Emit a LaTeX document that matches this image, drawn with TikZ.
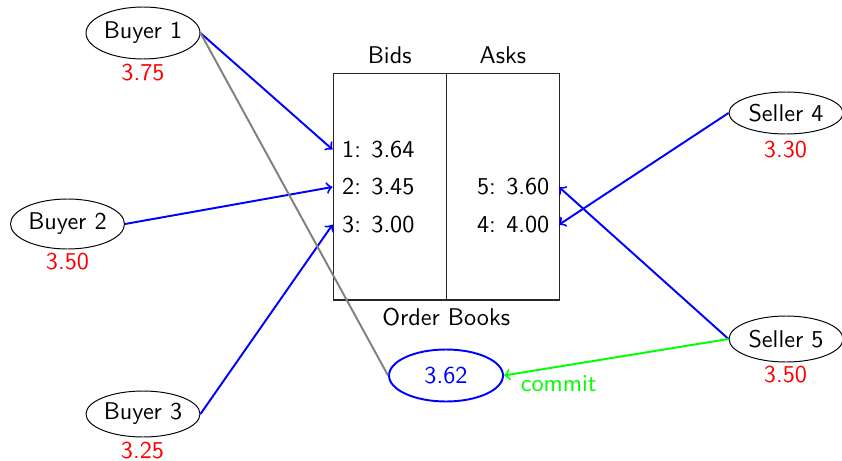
\documentclass[tikz,border=0pt]{standalone}
\usetikzlibrary{shapes.geometric}
\begin{document}
\begin{tikzpicture}[x=0.4132pt,y=-0.4132pt,font=\sffamily,
  trader/.style={ellipse,draw,thin,inner sep=0pt,minimum width=114*0.4132pt,minimum height=#1*0.4132pt},
  trader/.default=48,
  price/.style={text=red,inner sep=0pt},
  entry/.style={inner xsep=3.8pt,inner ysep=0pt},
  order/.style={->,blue,thick},
  column/.style={draw=black!85,line width=0.6pt,inner sep=0pt,anchor=north west,
    minimum height=226.6*0.4132pt},
  heading/.style={anchor=base,inner sep=0pt}]
\useasboundingbox (0,0) rectangle (842,460);

% traders and their limit prices
\node[trader=52] (b1) at (143,33) {Buyer 1};
\node[price] (p1) at (143,73) {3.75};
\node[trader=50] (b2) at (67.5,224) {Buyer 2};
\node[price] (p2) at (67.5,262) {3.50};
\node[trader=46] (b3) at (143,414) {Buyer 3};
\node[price] (p3) at (142.5,451) {3.25};
\node[trader=42] (s4) at (786,113) {Seller 4};
\node[price] (p4) at (785.5,149.5) {3.30};
\node[trader=46] (s5) at (786,339) {Seller 5};
\node[price] (p5) at (785.5,375) {3.50};

% order books
\node[column,minimum width=113.5*0.4132pt] (bidcol) at (332.5,72.7) {};
\node[column,minimum width=113*0.4132pt] (askcol) at (446,72.7) {};
\node[heading] (bidhead) at (389.7,63.3) {Bids};
\node[heading] (askhead) at (503,63.3) {Asks};
\node[heading] (bookname) at (446.2,325) {Order Books};

\node[entry,anchor=west] (bid1) at (332.5,149.5) {1:\hspace{4.3pt}3.64};
\node[entry,anchor=west] (bid2) at (332.5,187) {2:\hspace{4.3pt}3.45};
\node[entry,anchor=west] (bid3) at (332.5,224.7) {3:\hspace{4.3pt}3.00};
\node[entry,anchor=east] (ask5) at (559,187) {5:\hspace{4.3pt}3.60};
\node[entry,anchor=east] (ask4) at (559,224.7) {4:\hspace{4.3pt}4.00};

% clearing price
\node[ellipse,draw=blue,thick,text=blue,inner sep=0pt,
  minimum width=114*0.4132pt,minimum height=52*0.4132pt] (clear) at (446,375.5) {3.62};

% orders
\draw[order] (b1.east) -- (bid1.west);
\draw[order] (b2.east) -- (bid2.west);
\draw[order] (b3.east) -- (bid3.west);
\draw[order] (s4.west) -- (ask4.east);
\draw[order] (s5.west) -- (ask5.east);
\draw[gray,thick] (b1.east) -- (clear.west);
\draw[->,green,thick] (s5.west) -- (clear.east);
\node[anchor=base,inner sep=0pt,text=green] (commitlbl) at (558.7,391.7) {commit};
\end{tikzpicture}
\end{document}
